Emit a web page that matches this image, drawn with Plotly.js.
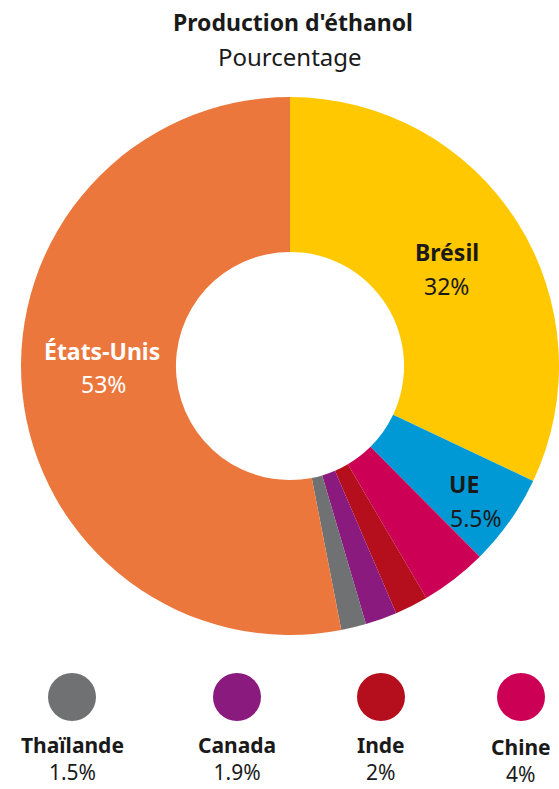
<!DOCTYPE html>
<html>
<head>
<meta charset="utf-8">
<script src="https://cdn.plot.ly/plotly-3.0.1.min.js"></script>
<style>html,body{margin:0;padding:0;background:#fff;}#chart{width:559px;height:789px;}</style>
</head>
<body>
<div id="chart"></div>
<script>
// ---- data ----
var countries = ["Brésil", "UE", "Chine", "Inde", "Canada", "Thaïlande", "États-Unis"];
var shares = [32, 5.5, 4, 2, 1.9, 1.5, 53];
var colors = ["#FFC800", "#0099D6", "#CC0055", "#B50F1E", "#8A1A7E", "#707173", "#EC773C"];
var legendCountries = ["Thaïlande", "Canada", "Inde", "Chine"];
var titleText = "Production d'éthanol";
var subtitleText = "Pourcentage";

// ---- layout helpers (positions in pixels) ----
var W = 559, H = 789;
function px(x) { return x / W; }
function py(y) { return 1 - y / H; }
var FONT = "Noto Sans, Open Sans, sans-serif";
var dark = "#1a1a1a";

function share(name) { return shares[countries.indexOf(name)]; }
function col(name) { return colors[countries.indexOf(name)]; }
function pct(v) { return v + "%"; }

var annotations = [];
function ann(text, x, y, size, color, bold, yanchor) {
  annotations.push({
    text: bold ? "<b>" + text + "</b>" : text,
    x: px(x), y: py(y), xref: "paper", yref: "paper",
    xanchor: "center", yanchor: yanchor || "middle", showarrow: false,
    align: "center", borderpad: 0,
    font: {family: FONT, size: size, color: color}
  });
}

// title
ann(titleText, 293, 22, 23, dark, true);
ann(subtitleText, 290, 57, 24, dark, false);

// in-slice labels
var sliceLabelPos = {
  "Brésil": [[447, 252], [446, 286], dark],
  "UE": [[464, 484], [476, 518], dark],
  "États-Unis": [[102, 351], [103, 384], "#ffffff"]
};
Object.keys(sliceLabelPos).forEach(function (k) {
  var p = sliceLabelPos[k];
  ann(k, p[0][0], p[0][1], 23, p[2], true);
  ann(pct(share(k)), p[1][0], p[1][1], 23, p[2], false);
});

// bottom legend
var legendX = [72, 237, 381, 521];
var legendY = [758, 758, 758, 760];
var shapes = [];
legendCountries.forEach(function (c, i) {
  var cx = legendX[i], cy = 697, r = 24;
  shapes.push({
    type: "circle", xref: "paper", yref: "paper",
    x0: px(cx - r), x1: px(cx + r), y0: py(cy + r), y1: py(cy - r),
    fillcolor: col(c), line: {width: 0}
  });
  ann("<b>" + c + "</b><br>" + pct(share(c)), cx, legendY[i], 21, dark, false);
});

var trace = {
  type: "pie",
  labels: countries,
  values: shares,
  marker: {colors: colors, line: {width: 0}},
  sort: false,
  direction: "clockwise",
  rotation: 0,
  hole: 0.424,
  textinfo: "none",
  hoverinfo: "none",
  domain: {x: [px(21), 1], y: [py(635), py(97)]}
};

var layout = {
  width: W, height: H,
  margin: {l: 0, r: 0, t: 0, b: 0},
  paper_bgcolor: "#ffffff",
  showlegend: false,
  annotations: annotations,
  shapes: shapes
};

Plotly.newPlot("chart", [trace], layout, {displayModeBar: false, staticPlot: true});
</script>
</body>
</html>
